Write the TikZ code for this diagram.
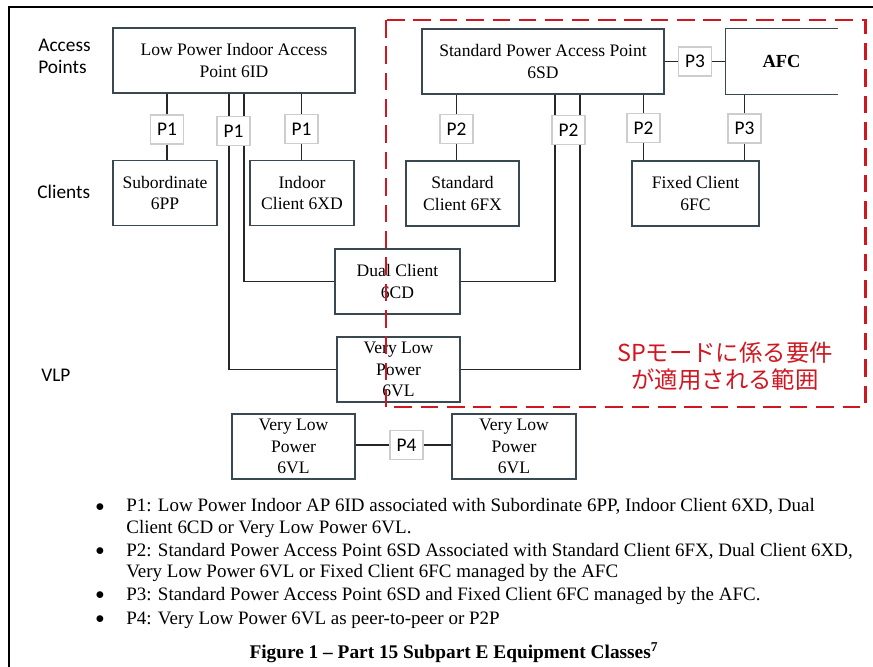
\documentclass[tikz,border=0pt]{standalone}
\usepackage{fontspec}
\setmainfont{Liberation Serif}
\newfontfamily\labelfont{Carlito}
\newfontfamily\jpfont{Noto Sans CJK JP}
\definecolor{boxgray}{RGB}{58,72,82}
\definecolor{pgray}{RGB}{205,205,205}
\definecolor{spred}{RGB}{208,22,32}

\begin{document}
\begin{tikzpicture}[x=1cm,y=1cm]
\tikzset{
  classbox/.style={draw=boxgray,line width=0.8pt,inner sep=0pt,align=center,minimum height=1.30cm,font=\fontsize{10}{12.2}\selectfont},
  pbox/.style={draw=pgray,fill=white,line width=0.6pt,inner sep=0pt,minimum width=0.66cm,minimum height=0.58cm,font=\labelfont\fontsize{11}{12}\selectfont},
  link/.style={draw=black!85,line width=0.8pt},
  rowlabel/.style={anchor=west,align=left,inner sep=0pt,font=\labelfont\fontsize{11}{12.5}\selectfont},
  spzone/.style={draw=spred,line width=1.7pt,dash pattern=on 10pt off 5pt},
  note/.style={anchor=west,align=left,inner sep=0pt,font=\fontsize{10.8}{12.1}\selectfont}
}
\useasboundingbox (0,0) rectangle (17.46,-13.34);
% frame of the screenshot
\draw[line width=1.1pt] (0.18,-13.34) -- (0.18,-0.14) -- (17.46,-0.14);
% row labels
\node[rowlabel] (n_rowap) at (0.76,-1.12) {Access\\Points};
\node[rowlabel] (n_rowcl) at (0.74,-3.84) {Clients};
\node[rowlabel] (n_rowvlp) at (0.82,-7.50) {VLP};
% equipment classes
\node[classbox,minimum width=4.84cm] (n_ap6id) at (4.68,-1.21) {Low Power Indoor Access\\Point 6ID};
\node[classbox,minimum width=2.08cm] (n_sub6pp) at (3.30,-3.86) {Subordinate\\6PP};
\node[classbox,minimum width=2.08cm] (n_ind6xd) at (6.04,-3.86) {Indoor\\Client 6XD};
\node[classbox,minimum width=4.84cm] (n_ap6sd) at (10.86,-1.23) {Standard Power Access Point\\6SD};
\node[classbox,draw=none,minimum width=2.22cm,font=\bfseries\fontsize{10.5}{12}\selectfont] (n_afc) at (15.63,-1.23) {AFC};
\node[classbox,minimum width=2.26cm] (n_std6fx) at (9.25,-3.87) {Standard\\Client 6FX};
\node[classbox,minimum width=2.54cm] (n_fix6fc) at (13.91,-3.87) {Fixed Client\\6FC};
\node[classbox,minimum width=2.50cm] (n_dual6cd) at (7.95,-5.63) {Dual Client\\6CD};
\node[classbox,minimum width=2.46cm] (n_vlp6vl) at (7.97,-7.39) {Very Low\\Power\\6VL};
\node[classbox,minimum width=2.46cm] (n_vla) at (5.87,-8.93) {Very Low\\Power\\6VL};
\node[classbox,minimum width=2.48cm] (n_vlb) at (10.28,-8.93) {Very Low\\Power\\6VL};
% AFC box is open on the right
\draw[draw=boxgray,line width=0.8pt] (n_afc.north east) -- (n_afc.north west) -- (n_afc.south west) -- (n_afc.south east);
% protocol tags
\node[pbox] (n_p1a) at (3.34,-2.59) {P1};
\node[pbox] (n_p1b) at (4.67,-2.62) {P1};
\node[pbox] (n_p1c) at (6.03,-2.58) {P1};
\node[pbox] (n_p2a) at (9.13,-2.58) {P2};
\node[pbox] (n_p2b) at (11.37,-2.60) {P2};
\node[pbox] (n_p2c) at (12.87,-2.56) {P2};
\node[pbox] (n_p3a) at (13.90,-1.23) {P3};
\node[pbox] (n_p3b) at (14.89,-2.57) {P3};
\node[pbox] (n_p4) at (8.13,-8.90) {P4};
% P1 links
\draw[link] (n_p1a) -- (n_p1a |- n_ap6id.south);
\draw[link] (n_p1a) -- (n_p1a |- n_sub6pp.north);
\draw[link] (n_p1c) -- (n_p1c |- n_ap6id.south);
\draw[link] (n_p1c) -- (n_p1c |- n_ind6xd.north);
\draw[link] ([xshift=-0.09cm]n_p1b.north |- n_ap6id.south) -- ([xshift=-0.09cm]n_p1b.north);
\draw[link] ([xshift=0.21cm]n_p1b.north |- n_ap6id.south) -- ([xshift=0.21cm]n_p1b.north);
\draw[link] ([xshift=0.21cm]n_p1b.south) |- (n_dual6cd.west);
\draw[link] ([xshift=-0.09cm]n_p1b.south) |- (n_vlp6vl.west);
% P2 links
\draw[link] (n_p2a) -- (n_p2a |- n_ap6sd.south);
\draw[link] (n_p2a) -- (n_p2a |- n_std6fx.north);
\draw[link] (n_p2c) -- (n_p2c |- n_ap6sd.south);
\draw[link] (n_p2c) -- (n_p2c |- n_fix6fc.north);
\draw[link] ([xshift=-0.27cm]n_p2b.north |- n_ap6sd.south) -- ([xshift=-0.27cm]n_p2b.north);
\draw[link] ([xshift=0.23cm]n_p2b.north |- n_ap6sd.south) -- ([xshift=0.23cm]n_p2b.north);
\draw[link] ([xshift=-0.27cm]n_p2b.south) |- (n_dual6cd.east);
\draw[link] ([xshift=0.23cm]n_p2b.south) |- (n_vlp6vl.east);
% P3 links
\draw[link] (n_ap6sd.east) -- (n_p3a);
\draw[link] (n_p3a) -- (n_afc.west);
\draw[link] (n_p3b) -- (n_p3b |- n_afc.south);
\draw[link] (n_p3b) -- (n_p3b |- n_fix6fc.north);
% P4 link
\draw[link] (n_p4) -- (n_p4 -| n_vla.east);
\draw[link] (n_p4) -- (n_p4 -| n_vlb.west);
% SP mode zone
\draw[spzone] (7.72,-0.40) rectangle (17.30,-8.14);
\node[text=spred,align=center,font=\jpfont\fontsize{13.3}{15.4}\selectfont] (n_spnote) at (14.50,-7.32) {SPモードに係る要件\\が適用される範囲};
% notes
\node[inner sep=0pt] (n_b1) at (2.00,-10.16) {$\bullet$};
\node[inner sep=0pt] (n_b2) at (2.00,-11.04) {$\bullet$};
\node[inner sep=0pt] (n_b3) at (2.00,-11.92) {$\bullet$};
\node[inner sep=0pt] (n_b4) at (2.00,-12.40) {$\bullet$};
\node[note] (n_note1) at (2.52,-10.36) {P1: Low Power Indoor AP 6ID associated with Subordinate 6PP, Indoor Client 6XD, Dual\\Client 6CD or Very Low Power 6VL.};
\node[note] (n_note2) at (2.52,-11.25) {P2: Standard Power Access Point 6SD Associated with Standard Client 6FX, Dual Client 6XD,\\Very Low Power 6VL or Fixed Client 6FC managed by the AFC};
\node[note] (n_note3) at (2.52,-11.92) {P3: Standard Power Access Point 6SD and Fixed Client 6FC managed by the AFC.};
\node[note] (n_note4) at (2.52,-12.40) {P4: Very Low Power 6VL as peer-to-peer or P2P};
\node[font=\bfseries\fontsize{11}{12}\selectfont] (n_caption) at (9.08,-13.06) {Figure 1 -- Part 15 Subpart E Equipment Classes\textsuperscript{7}};
\end{tikzpicture}
\end{document}
